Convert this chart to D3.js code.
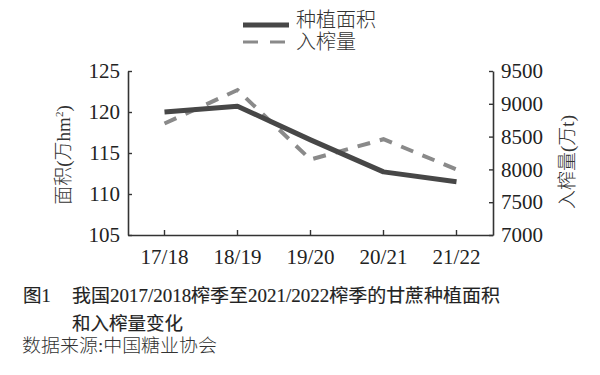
<!DOCTYPE html>
<html>
<head>
<meta charset="utf-8">
<script src="https://cdn.jsdelivr.net/npm/d3@7"></script>
<style>
  body { margin: 0; background: #fff; }
  svg { display: block; }
</style>
</head>
<body>
<script>
// data
const seasons = ["17/18", "18/19", "19/20", "20/21", "21/22"];
const area = [120.0, 120.7, 116.6, 112.7, 111.5];      // 万hm²
const crushed = [8700, 9210, 8150, 8460, 8000];        // 万t
const leftTicks = [105, 110, 115, 120, 125];
const rightTicks = [7000, 7500, 8000, 8500, 9000, 9500];

const width = 600, height = 375;
const plotLeft = 128, plotRight = 493, plotTop = 71, plotBottom = 235;
const numFont = "'Liberation Serif', 'Noto Sans CJK SC', serif";
const cjkFont = "'Liberation Serif', 'Noto Sans CJK SC', sans-serif";

const svg = d3.select("body").append("svg")
    .attr("width", width)
    .attr("height", height);

// scales
const x = d3.scaleBand().domain(seasons).range([plotLeft, plotRight]);
const yL = d3.scaleLinear().domain([105, 125]).range([plotBottom, plotTop]);
const yR = d3.scaleLinear().domain([7000, 9500]).range([plotBottom, plotTop]);
const cx = d => x(d) + x.bandwidth() / 2;

// axes
const styleAxis = g => {
    g.select(".domain").attr("stroke", "#333").attr("stroke-width", 1.6);
    g.selectAll(".tick line").attr("stroke", "#333").attr("stroke-width", 1.4);
    g.selectAll(".tick text").attr("fill", "#222")
        .style("font-family", numFont).style("font-size", "21px");
};

svg.append("g")
    .attr("transform", `translate(0,${plotBottom})`)
    .call(d3.axisBottom(x).tickSizeInner(-5).tickSizeOuter(0).tickPadding(14))
    .call(styleAxis);

svg.append("g")
    .attr("transform", `translate(${plotLeft},0)`)
    .call(d3.axisLeft(yL).tickValues(leftTicks).tickSizeInner(-4).tickSizeOuter(0).tickPadding(8))
    .call(styleAxis);

svg.append("g")
    .attr("transform", `translate(${plotRight},0)`)
    .call(d3.axisRight(yR).tickValues(rightTicks).tickFormat(d3.format("d"))
        .tickSizeInner(-4).tickSizeOuter(0).tickPadding(8))
    .call(styleAxis);

// lines
const areaLine = d3.line().x((d, i) => cx(seasons[i])).y(d => yL(d));
const crushLine = d3.line().x((d, i) => cx(seasons[i])).y(d => yR(d));

svg.append("path")
    .datum(crushed)
    .attr("fill", "none")
    .attr("stroke", "#8a8a8a")
    .attr("stroke-width", 4)
    .attr("stroke-dasharray", "13,10")
    .attr("d", crushLine);

svg.append("path")
    .datum(area)
    .attr("fill", "none")
    .attr("stroke", "#474747")
    .attr("stroke-width", 5)
    .attr("stroke-linejoin", "round")
    .attr("d", areaLine);

// axis titles
const leftTitle = svg.append("text")
    .attr("transform", `translate(70,155) rotate(-90)`)
    .attr("text-anchor", "middle")
    .attr("fill", "#333")
    .style("font-family", cjkFont).style("font-size", "19px").style("font-weight", 300);
leftTitle.append("tspan").text("面积(万hm");
leftTitle.append("tspan").attr("dy", -7).style("font-size", "11px").text("2");
leftTitle.append("tspan").attr("dy", 7).text(")");

svg.append("text")
    .attr("transform", `translate(574,162) rotate(-90)`)
    .attr("text-anchor", "middle")
    .attr("fill", "#333")
    .style("font-family", cjkFont).style("font-size", "19px").style("font-weight", 300)
    .text("入榨量(万t)");

// legend
const legend = svg.append("g");
legend.append("line").attr("x1", 243).attr("x2", 289).attr("y1", 25).attr("y2", 25)
    .attr("stroke", "#474747").attr("stroke-width", 5);
legend.append("line").attr("x1", 243).attr("x2", 289).attr("y1", 42).attr("y2", 42)
    .attr("stroke", "#8a8a8a").attr("stroke-width", 3).attr("stroke-dasharray", "15,12");
legend.append("text").attr("x", 296).attr("y", 20).attr("dominant-baseline", "central")
    .attr("fill", "#333")
    .style("font-family", cjkFont).style("font-size", "20px").style("font-weight", 300)
    .text("种植面积");
legend.append("text").attr("x", 296).attr("y", 42).attr("dominant-baseline", "central")
    .attr("fill", "#333")
    .style("font-family", cjkFont).style("font-size", "20px").style("font-weight", 300)
    .text("入榨量");

// caption
const cap = svg.append("g").attr("fill", "#222").attr("stroke", "#222").attr("stroke-width", 0.15)
    .style("font-family", cjkFont).style("font-size", "18.5px").style("font-weight", 400);
cap.append("text").attr("x", 23).attr("y", 302).text("图1");
cap.append("text").attr("x", 72).attr("y", 302)
    .attr("textLength", 428).attr("lengthAdjust", "spacingAndGlyphs")
    .text("我国2017/2018榨季至2021/2022榨季的甘蔗种植面积");
cap.append("text").attr("x", 72).attr("y", 330).text("和入榨量变化");
svg.append("text").attr("x", 22).attr("y", 352).attr("fill", "#333")
    .attr("textLength", 195).attr("lengthAdjust", "spacingAndGlyphs")
    .style("font-family", cjkFont).style("font-size", "18.5px").style("font-weight", 300)
    .text("数据来源:中国糖业协会");
</script>
</body>
</html>
